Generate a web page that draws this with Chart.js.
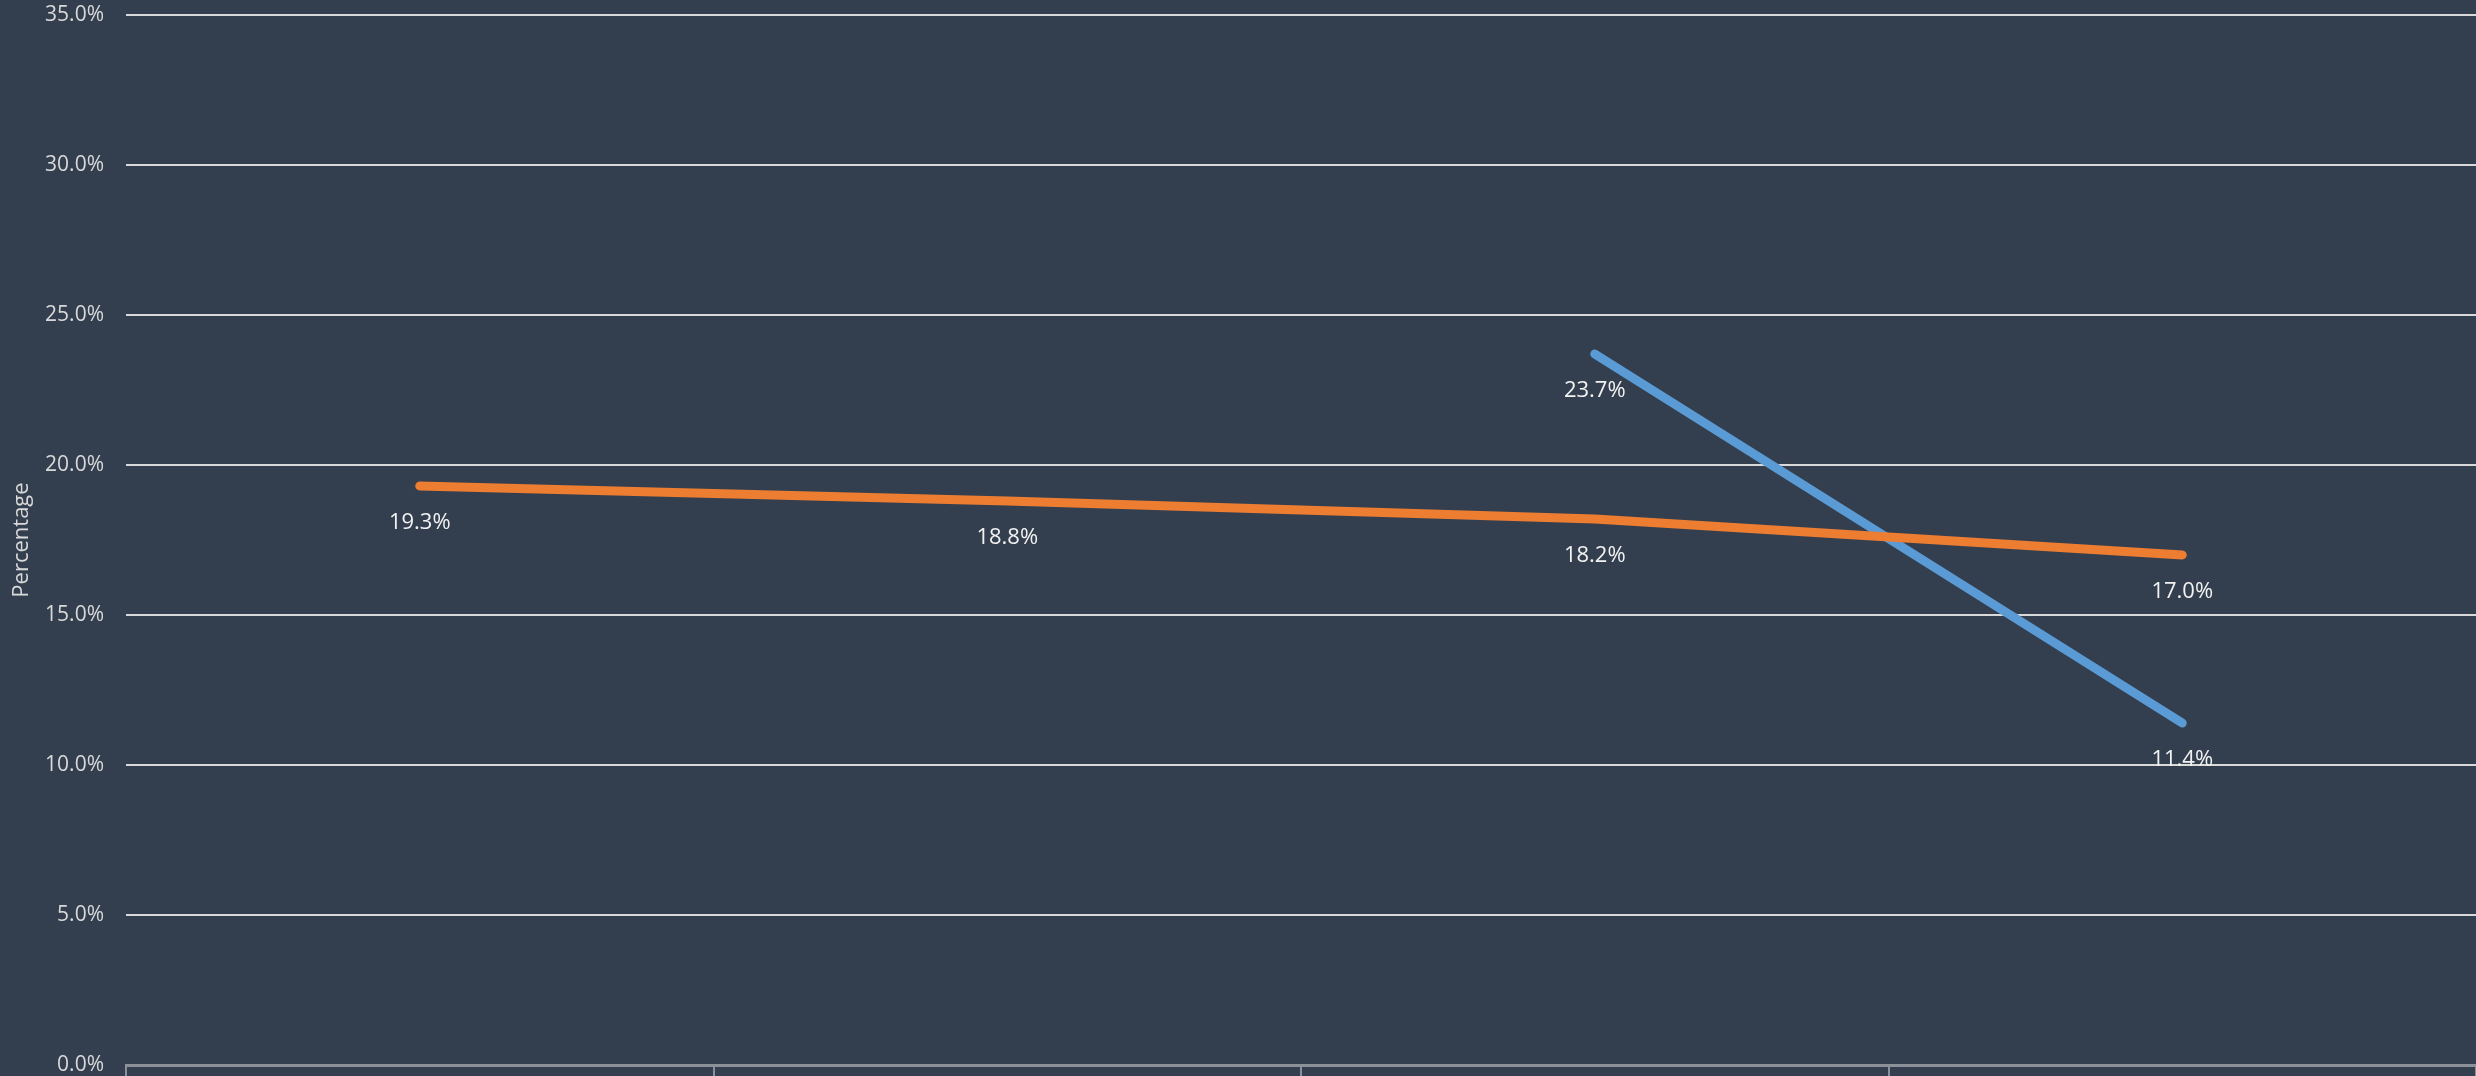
<!DOCTYPE html>
<html>
<head>
<meta charset="utf-8">
<script src="https://cdn.jsdelivr.net/npm/chart.js@4/dist/chart.umd.min.js"></script>
<style>
  html, body { margin: 0; padding: 0; background: #333f4f; overflow: hidden; }
  #wrap { width: 2476px; height: 1076px; position: relative; }
</style>
</head>
<body>
<div id="wrap"><canvas id="chart"></canvas></div>
<script>
// Datos
const categories = ['1', '2', '3', '4'];
const orangeValues = [19.3, 18.8, 18.2, 17.0];
const blueValues = [null, null, 23.7, 11.4];
const yTicks = [0, 5, 10, 15, 20, 25, 30, 35];

const BG = '#333f4f';
const FONT = '"Open Sans", "Noto Sans", sans-serif';

// Fondo del canvas
const bgPlugin = {
  id: 'bg',
  beforeDraw(chart) {
    const ctx = chart.ctx;
    ctx.save();
    ctx.fillStyle = BG;
    ctx.fillRect(0, 0, chart.width, chart.height);
    ctx.restore();
  }
};

// Etiquetas de valores debajo de cada punto
const valueLabels = {
  id: 'valueLabels',
  afterDatasetsDraw(chart) {
    const ctx = chart.ctx;
    ctx.save();
    ctx.font = '22px ' + FONT;
    ctx.fillStyle = '#f2f2f2';
    ctx.textAlign = 'center';
    ctx.textBaseline = 'middle';
    chart.data.datasets.forEach((ds, i) => {
      const meta = chart.getDatasetMeta(i);
      meta.data.forEach((pt, j) => {
        const v = ds.data[j];
        if (v === null || v === undefined) return;
        ctx.fillText(v.toFixed(1) + '%', pt.x, pt.y + 37);
      });
    });
    ctx.restore();
  }
};

new Chart(document.getElementById('chart'), {
  type: 'line',
  data: {
    labels: categories,
    datasets: [
      {
        label: 'Serie 2',
        data: orangeValues,
        borderColor: '#ed7d31',
        borderWidth: 9,
        borderCapStyle: 'round',
        borderJoinStyle: 'round',
        pointRadius: 0,
        tension: 0,
        fill: false
      },
      {
        label: 'Serie 1',
        data: blueValues,
        borderColor: '#5b9bd5',
        borderWidth: 9,
        borderCapStyle: 'round',
        borderJoinStyle: 'round',
        pointRadius: 0,
        tension: 0,
        fill: false
      }
    ]
  },
  options: {
    responsive: true,
    maintainAspectRatio: false,
    animation: false,
    layout: { padding: { left: 9, top: 15, right: 0, bottom: 0 } },
    plugins: { legend: { display: false }, tooltip: { enabled: false } },
    scales: {
      x: {
        offset: true,
        grid: {
          offset: true,
          drawOnChartArea: false,
          drawTicks: true,
          tickLength: 14,
          color: '#8c9099',
          lineWidth: 2
        },
        border: { display: true, color: '#8c9099', width: 3 },
        ticks: { display: false },
        afterFit(s) {
          s.height = 11;
          s.paddingLeft = 0; s.paddingRight = 0;
        }
      },
      y: {
        min: 0,
        max: 35,
        afterBuildTicks(s) { s.ticks = yTicks.map(v => ({ value: v })); },
        grid: { color: '#d9d9d9', lineWidth: 2, drawTicks: false },
        border: { display: false },
        ticks: {
          padding: 22,
          color: '#d9d9d9',
          font: { family: FONT, size: 21 },
          callback: v => Number(v).toFixed(1) + '%'
        },
        title: {
          display: true,
          text: 'Percentage',
          color: '#d9d9d9',
          font: { family: FONT, size: 22 },
          padding: { top: 0, bottom: 0 }
        },
        afterFit(s) {
          s.width = 117;
          s.paddingTop = 0; s.paddingBottom = 0;
        }
      }
    }
  },
  plugins: [bgPlugin, valueLabels]
});
</script>
</body>
</html>
